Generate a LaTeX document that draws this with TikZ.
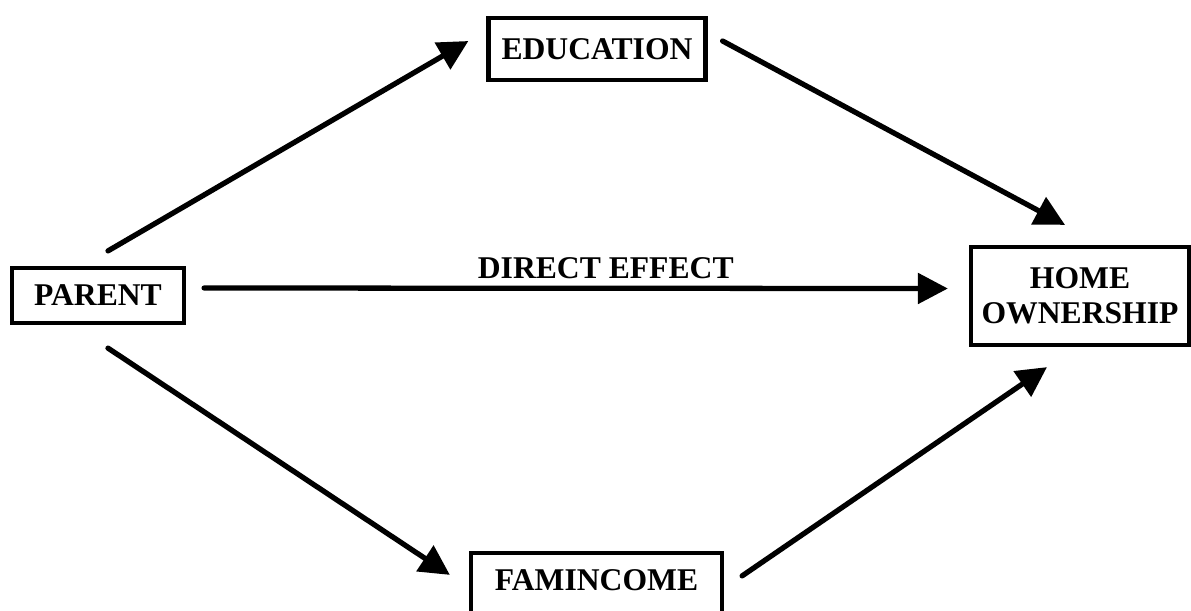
\documentclass[tikz,border=0pt]{standalone}
\usepackage{fontspec}
\setmainfont{Liberation Serif}
\usepackage{tikz}
\usetikzlibrary{arrows.meta, positioning, calc}
\tikzset{
  varbox/.style={draw, line width=2.4pt, font=\fontsize{18}{20}\selectfont\bfseries,
    align=center, inner sep=0pt},
  effarrow/.style={line width=3pt, line cap=round,
    -{Triangle[length=0.6cm, width=0.6cm]}}
}

\begin{document}
\begin{tikzpicture}
  \clip (0,0) rectangle (23.82,-12.2);
  % variables
  \node[varbox, minimum width=3.44cm, minimum height=1.1cm] (parent) at (1.96,-5.91) {PARENT};
  \node[varbox, minimum width=4.34cm, minimum height=1.24cm] (education) at (11.94,-0.98) {EDUCATION};
  \node[varbox, minimum width=4.36cm, minimum height=1.96cm] (home) at (21.6,-5.92) {HOME\\OWNERSHIP};
  \node[varbox, minimum width=5.02cm, text height=0.6cm, text depth=1cm, inner ysep=0.15cm,
        anchor=base] (famincome) at (11.93,-11.81) {FAMINCOME};
  % paths
  \draw[effarrow] ([shift={(0.2,0.3)}]parent.north) -- ([shift={(-0.36,0.16)}]education.west);
  \draw[effarrow] ([shift={(0.3,0.16)}]education.east) -- ([shift={(-0.3,0.4)}]home.north);
  \draw[effarrow] ([shift={(0.36,0.15)}]parent.east) -- ([shift={(-0.42,0.15)}]home.west)
    node[pos=0.54, above=0.02cm, font=\fontsize{18}{20}\selectfont\bfseries] (direct) {DIRECT EFFECT};
  \draw[effarrow] ([shift={(0.2,-0.46)}]parent.south) -- ([shift={(-0.38,-0.48)}]famincome.north west);
  \draw[effarrow] ([shift={(0.36,-0.5)}]famincome.north east) -- ([shift={(-0.66,-0.4)}]home.south);
\end{tikzpicture}
\end{document}
